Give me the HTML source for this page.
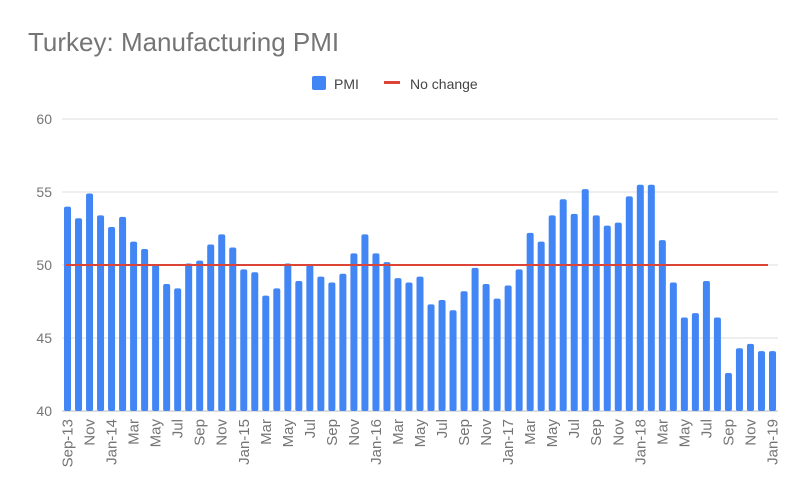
<!DOCTYPE html>
<html><head><meta charset="utf-8"><style>
body{margin:0;background:#fff;font-family:"Liberation Sans",sans-serif;}
svg text{font-family:"Liberation Sans",sans-serif;}
</style></head><body>
<svg id="chart" width="800" height="495">
<text x="28" y="51" font-size="26" fill="#757575">Turkey: Manufacturing PMI</text>
<g>
<rect x="312" y="76" width="14" height="14" rx="2" fill="#4285f4"/>
<text x="334" y="89" font-size="14" fill="#444">PMI</text>
<rect x="384" y="81" width="16" height="3" fill="#db4437"/>
<text x="410" y="89" font-size="14" fill="#444">No change</text>
</g>
<g id="grid"></g><g id="bars"></g><g id="xl"></g>
</svg>
<script>
const months=["Sep-13","Oct","Nov","Dec","Jan-14","Feb","Mar","Apr","May","Jun","Jul","Aug","Sep","Oct","Nov","Dec","Jan-15","Feb","Mar","Apr","May","Jun","Jul","Aug","Sep","Oct","Nov","Dec","Jan-16","Feb","Mar","Apr","May","Jun","Jul","Aug","Sep","Oct","Nov","Dec","Jan-17","Feb","Mar","Apr","May","Jun","Jul","Aug","Sep","Oct","Nov","Dec","Jan-18","Feb","Mar","Apr","May","Jun","Jul","Aug","Sep","Oct","Nov","Dec","Jan-19"];
const pmi=[54.0,53.2,54.9,53.4,52.6,53.3,51.6,51.1,50.0,48.7,48.4,50.1,50.3,51.4,52.1,51.2,49.7,49.5,47.9,48.4,50.1,48.9,50.0,49.2,48.8,49.4,50.8,52.1,50.8,50.2,49.1,48.8,49.2,47.3,47.6,46.9,48.2,49.8,48.7,47.7,48.6,49.7,52.2,51.6,53.4,54.5,53.5,55.2,53.4,52.7,52.9,54.7,55.5,55.5,51.7,48.8,46.4,46.7,48.9,46.4,42.6,44.3,44.6,44.1,44.1];
const noChange=50;
const yTicks=[40,45,50,55,60];
const NS="http://www.w3.org/2000/svg";
const x0=62,x1=778,yTop=119,yBot=411,yMin=40,yMax=60;
const step=(x1-x0)/months.length;
const y=v=>yBot-(v-yMin)/(yMax-yMin)*(yBot-yTop);
const xc=i=>x0+step*(i+0.5);
function mk(t,a,p){const e=document.createElementNS(NS,t);for(const k in a)e.setAttribute(k,a[k]);p.appendChild(e);return e;}
const grid=document.getElementById('grid'),bars=document.getElementById('bars'),xl=document.getElementById('xl');
yTicks.forEach(v=>{
 const l=mk('line',{x1:x0,x2:x1,y1:y(v),y2:y(v),stroke:v===40?'#bbb':'#ddd','stroke-width':1},grid);
 
 
 const t=mk('text',{x:52,y:y(v)+5,'text-anchor':'end','font-size':14,fill:'#757575'},grid);
 t.textContent=v;
 
 
});
pmi.forEach((v,i)=>{
 const r=mk('rect',{x:xc(i)-3.5,y:y(v),width:7,height:yBot-y(v),rx:2,fill:'#4285f4'},bars);
 
 
});
const nl=mk('line',{x1:x0+4,x2:x1-10,y1:y(noChange),y2:y(noChange),stroke:'#db4437','stroke-width':2},bars);


months.forEach((m,i)=>{
 if(i%2)return;
 const cx=xc(i)+5,cy=419;
 const t=mk('text',{x:cx,y:cy,'text-anchor':'end','font-size':15,fill:'#757575',transform:`rotate(-90 ${cx} ${cy})`},xl);
 t.textContent=m;
 
 
});
</script>
</body></html>
